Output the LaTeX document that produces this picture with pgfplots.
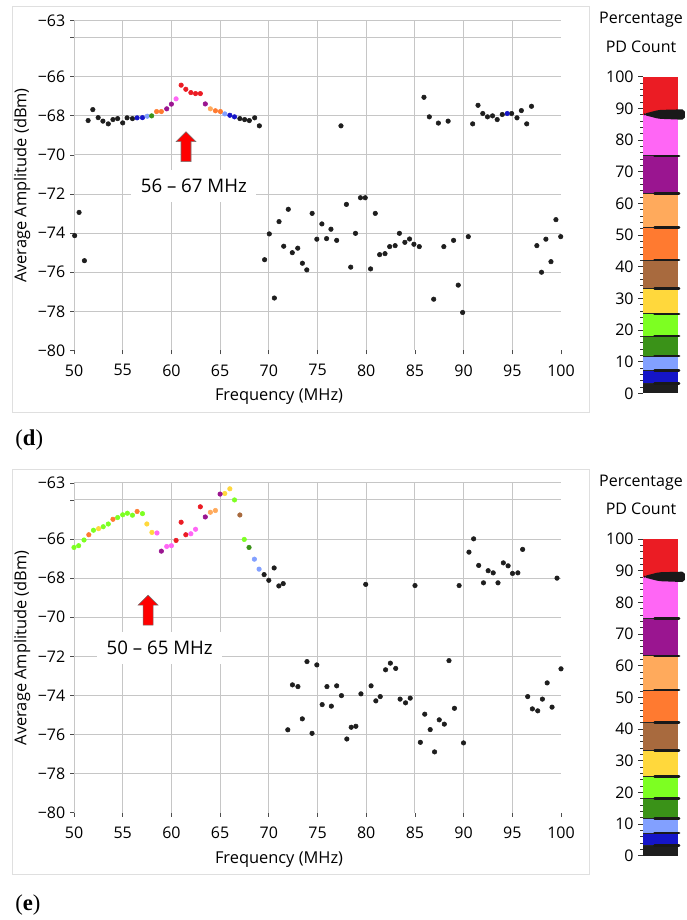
\documentclass[border=0pt]{standalone}
\usepackage{fontspec}
\setmainfont{Open Sans}
\newfontfamily\panelfont{Liberation Serif}
\usepackage{pgfplots}
\pgfplotsset{compat=1.18}

\definecolor{cRed}{HTML}{EB1C24}
\definecolor{cPink}{HTML}{FF66F5}
\definecolor{cPurple}{HTML}{9A1590}
\definecolor{cLOrange}{HTML}{FFAA5C}
\definecolor{cOrange}{HTML}{FF7A30}
\definecolor{cBrown}{HTML}{A86A3E}
\definecolor{cYellow}{HTML}{FFD83C}
\definecolor{cGreen}{HTML}{7DFF22}
\definecolor{cDGreen}{HTML}{3A9218}
\definecolor{cLBlue}{HTML}{82A0FF}
\definecolor{cBlue}{HTML}{1515C8}
\definecolor{cBlack}{HTML}{1E1E1E}

\tikzset{
  thr/.style={line width=0.7pt, black!85},
  thrb/.style={line width=2pt, line cap=round, black!90},
}

\pgfplotsset{
  mainax/.style={
    scale only axis, width=365.25pt, height=247.3pt,
    xmin=50, xmax=100, ymin=-80, ymax=-63.13,
    axis line style={draw=none},
    xtick={50,55,60,65,70,75,80,85,90,95}, extra x ticks={100},
    ytick={-78,-76,-74,-72,-70,-68,-66,-64,-63.13},
    yticklabels={−78,−76,−74,−72,−70,−68,−66,{},−63},
    extra y ticks={-80}, extra y tick labels={−80},
    extra tick style={grid=none},
    grid=major, grid style={line width=0.75pt, color=gray!45},
    tick align=outside, major tick length=3pt,
    tick style={line width=0.6pt, color=black!70},
    xtick pos=left, ytick pos=left,
    /pgf/number format/assume math mode=true,
    ticklabel style={font=\fontsize{12}{14}\selectfont},
    xticklabel style={yshift=-4pt},
    xlabel={Frequency (MHz)},
    ylabel={Average Amplitude (dBm)},
    label style={font=\fontsize{12.3}{14}\selectfont},
    xlabel style={at={(axis description cs:0.421,-0.1413)}, anchor=center},
    ylabel style={at={(axis description cs:-0.1068,0.5)}, anchor=center},
  },
  dots/.style={only marks, mark=*, mark size=1.7pt, color=#1, mark options={draw=#1, fill=#1}},
  cbar/.style={
    scale only axis, width=26.25pt, height=237.6pt,
    xmin=0, xmax=1, ymin=0, ymax=100,
    ybar stacked, bar width=26.25pt,
    xtick=\empty, axis line style={draw=none},
    ytick={0,10,20,30,40,50,60,70,80,90,100}, minor y tick num=4,
    ytick pos=left, tick align=outside,
    major tick length=3.5pt, minor tick length=2pt,
    tick style={line width=0.5pt, color=black!80},
    /pgf/number format/assume math mode=true,
    yticklabel style={font=\fontsize{12}{14}\selectfont},
    clip=false,
  },
  cbarover/.style={
    scale only axis, width=26.25pt, height=237.6pt,
    xmin=0, xmax=1, ymin=0, ymax=100,
    hide axis, clip=false,
  },
  cbarfill/.style={fill=#1, draw=none},
}

\newcommand{\thrline}[1]{%
  \draw[thr] (axis cs:0,#1) -- (axis cs:1.03,#1);
  \draw[thrb] (axis cs:0.33,#1) -- (axis cs:1.03,#1);
}

\newcommand{\cbarplots}{%
  \addplot[cbarfill=cBlack] coordinates {(0.5,3.2)};
  \addplot[cbarfill=cBlue] coordinates {(0.5,4.0)};
  \addplot[cbarfill=cLBlue] coordinates {(0.5,4.6)};
  \addplot[cbarfill=cDGreen] coordinates {(0.5,6.3)};
  \addplot[cbarfill=cGreen] coordinates {(0.5,7.0)};
  \addplot[cbarfill=cYellow] coordinates {(0.5,8.1)};
  \addplot[cbarfill=cBrown] coordinates {(0.5,8.9)};
  \addplot[cbarfill=cOrange] coordinates {(0.5,10.2)};
  \addplot[cbarfill=cLOrange] coordinates {(0.5,10.8)};
  \addplot[cbarfill=cPurple] coordinates {(0.5,11.9)};
  \addplot[cbarfill=cPink] coordinates {(0.5,12.9)};
  \addplot[cbarfill=cRed] coordinates {(0.5,12.1)};
}
\newcommand{\cbarmarks}{%
  \thrline{3.2}\thrline{7.2}\thrline{11.8}\thrline{18.1}\thrline{25.1}
  \thrline{33.2}\thrline{42.1}\thrline{52.3}\thrline{63.1}\thrline{75.0}
  \fill[black!90, rounded corners=1.5pt] (axis cs:0.03,88.3) -- (axis cs:0.45,89.5) -- (axis cs:1.18,89.7) -- (axis cs:1.21,88) -- (axis cs:1.18,86.4) -- (axis cs:0.45,86.7) -- (axis cs:0.03,87.9) -- cycle;
}

\begin{document}
\begin{tikzpicture}
\useasboundingbox (0,0) rectangle (514.5pt,-690pt);
% frames
\draw[gray!25, line width=0.75pt] (9pt,-5.25pt) rectangle (441.75pt,-309pt);
\draw[gray!25, line width=0.75pt] (9pt,-351.95pt) rectangle (441.75pt,-655.7pt);

% ---------- panel (d) ----------
\begin{axis}[mainax, at={(55.5pt,-262.8pt)}, anchor=south west]
\addplot[dots=cBlack] coordinates {
(50.07,-74.13)(50.52,-72.94)(51.07,-75.41)(51.45,-68.24)(51.93,-67.68)(52.48,-68.09)(52.97,-68.27)(53.52,-68.41)(54.0,-68.19)(54.48,-68.14)(55.0,-68.36)(55.45,-68.10)(56.0,-68.14)(67.03,-68.14)(67.52,-68.19)(68.0,-68.24)(68.55,-68.10)(69.03,-68.51)(69.57,-75.36)(70.05,-74.04)(70.57,-77.32)(71.05,-73.41)(71.53,-74.67)(72.0,-72.78)(72.41,-75.0)(72.97,-74.77)(73.45,-75.54)(73.90,-75.88)(74.45,-72.99)(74.93,-74.31)(75.45,-73.53)(75.93,-74.28)(76.38,-73.80)(76.97,-74.37)(77.41,-68.51)(77.97,-72.53)(78.41,-75.74)(78.90,-74.01)(79.41,-72.19)(79.90,-72.19)(80.45,-75.83)(80.93,-72.99)(81.38,-75.10)(81.93,-75.05)(82.41,-74.69)(82.97,-74.64)(83.41,-74.01)(83.97,-74.47)(84.45,-74.30)(84.90,-74.57)(85.45,-74.69)(85.93,-67.05)(86.48,-68.05)(86.93,-77.38)(87.41,-68.37)(87.97,-74.69)(88.41,-68.27)(88.97,-74.37)(89.45,-76.66)(89.90,-78.06)(90.48,-74.18)(90.93,-68.41)(91.48,-67.46)(91.97,-67.88)(92.45,-68.05)(92.97,-68.0)(93.45,-68.19)(93.97,-67.93)(94.93,-67.88)(95.48,-68.10)(95.93,-67.73)(96.48,-68.41)(96.97,-67.51)(97.52,-74.64)(98.0,-76.0)(98.45,-74.31)(98.97,-75.46)(99.48,-73.31)(99.97,-74.18)
};
\addplot[dots=cBlue] coordinates {(56.48,-68.10)(57.03,-68.09)(66.0,-67.97)(66.48,-68.05)(94.48,-67.88)};
\addplot[dots=cLBlue] coordinates {(57.52,-68.02)(65.48,-67.90)};
\addplot[dots=cDGreen] coordinates {(57.97,-68.0)};
\addplot[dots=cOrange] coordinates {(58.48,-67.78)(58.97,-67.78)(64.52,-67.74)(65.03,-67.78)};
\addplot[dots=cLOrange] coordinates {(64.0,-67.64)};
\addplot[dots=cPurple] coordinates {(59.52,-67.64)(60.0,-67.40)(63.48,-67.39)};
\addplot[dots=cPink] coordinates {(60.48,-67.13)};
\addplot[dots=cRed] coordinates {(61.0,-66.43)(61.48,-66.64)(62.0,-66.81)(62.48,-66.86)(62.97,-66.86)};
\node[fill=white, inner sep=0pt, minimum width=93.75pt, minimum height=24pt, font=\fontsize{14}{16}\selectfont] at (axis cs:62.3,-71.6) {56 – 67 MHz};
\draw[fill=red, draw=black!55, line width=0.4pt] (axis cs:61.5,-68.81) -- ++(-7.5pt,-7.5pt) -- ++(3.75pt,0pt) -- ++(0pt,-15pt) -- ++(7.5pt,0pt) -- ++(0pt,15pt) -- ++(3.75pt,0pt) -- cycle;
\end{axis}

\begin{axis}[cbar, at={(482.25pt,-295.1pt)}, anchor=south west]
\cbarplots
\end{axis}
\begin{axis}[cbarover, at={(482.25pt,-295.1pt)}, anchor=south west]
\cbarmarks
\end{axis}
\node[font=\fontsize{12}{14}\selectfont] at (480.75pt,-15pt) {Percentage};
\node[font=\fontsize{12}{14}\selectfont] at (480.75pt,-35.25pt) {PD Count};
\node[anchor=west, font=\panelfont\fontsize{17}{19}\selectfont] at (8pt,-330pt) {(\textbf{d})};

% ---------- panel (e) ----------
\begin{axis}[mainax, at={(55.5pt,-609.5pt)}, anchor=south west]
\addplot[dots=cBlack] coordinates {
(69.52,-67.82)(70.0,-68.11)(70.55,-67.48)(71.03,-68.40)(71.48,-68.28)(71.95,-75.76)(72.43,-73.46)(72.99,-73.55)(73.44,-75.20)(73.92,-72.27)(74.44,-75.94)(74.93,-72.44)(75.48,-74.47)(75.97,-73.55)(76.42,-74.55)(76.97,-73.51)(77.46,-74.01)(78.01,-76.23)(78.46,-75.63)(78.94,-75.58)(79.46,-73.92)(79.95,-68.32)(80.50,-73.51)(80.99,-74.28)(81.44,-74.06)(81.99,-72.69)(82.48,-72.35)(83.03,-72.62)(83.48,-74.19)(84.04,-74.38)(84.52,-74.14)(85.01,-68.38)(85.56,-76.40)(86.01,-74.96)(86.57,-75.75)(87.02,-76.89)(87.50,-75.25)(88.02,-75.47)(88.50,-72.22)(89.06,-74.66)(89.54,-68.38)(89.99,-76.43)(90.55,-66.67)(91.03,-65.99)(91.55,-67.35)(92.04,-68.24)(92.52,-67.62)(93.04,-67.73)(93.53,-68.24)(94.08,-67.22)(94.57,-67.37)(95.02,-67.76)(95.57,-67.73)(96.06,-66.53)(96.58,-74.06)(97.06,-74.69)(97.61,-74.79)(98.09,-74.19)(98.58,-73.36)(99.08,-74.60)(99.59,-68.0)(100.0,-72.64)
};
\addplot[dots=cGreen] coordinates {(50.0,-66.43)(50.48,-66.34)(51.03,-66.05)(52.0,-65.55)(53.0,-65.37)(53.52,-65.23)(54.48,-64.90)(55.0,-64.76)(55.48,-64.68)(56.0,-64.78)(57.03,-64.70)(66.48,-64.0)(67.48,-66.02)};
\addplot[dots=cOrange] coordinates {(51.52,-65.78)(54.0,-64.99)(56.48,-64.59)};
\addplot[dots=cYellow] coordinates {(52.52,-65.47)(57.48,-65.23)(58.0,-65.66)(65.48,-63.67)(66.0,-63.43)};
\addplot[dots=cPink] coordinates {(58.52,-65.69)(59.52,-66.38)(60.0,-66.34)(62.0,-65.73)(62.48,-65.50)};
\addplot[dots=cPurple] coordinates {(58.97,-66.62)(63.48,-64.87)(65.0,-63.70)};
\addplot[dots=cRed] coordinates {(60.48,-66.07)(61.0,-65.14)(61.48,-65.78)(62.97,-64.35)};
\addplot[dots=cLOrange] coordinates {(64.0,-64.63)(64.52,-64.54)};
\addplot[dots=cBrown] coordinates {(67.03,-64.77)};
\addplot[dots=cDGreen] coordinates {(67.97,-66.43)};
\addplot[dots=cLBlue] coordinates {(68.52,-67.03)(69.0,-67.54)};
\node[fill=white, inner sep=0pt, minimum width=93.75pt, minimum height=24pt, font=\fontsize{14}{16}\selectfont] at (axis cs:58.8,-71.57) {50 – 65 MHz};
\draw[fill=red, draw=black!55, line width=0.4pt] (axis cs:57.6,-68.87) -- ++(-7.5pt,-7.5pt) -- ++(3.75pt,0pt) -- ++(0pt,-15pt) -- ++(7.5pt,0pt) -- ++(0pt,15pt) -- ++(3.75pt,0pt) -- cycle;
\end{axis}

\begin{axis}[cbar, at={(482.25pt,-641.85pt)}, anchor=south west]
\cbarplots
\end{axis}
\begin{axis}[cbarover, at={(482.25pt,-641.85pt)}, anchor=south west]
\cbarmarks
\end{axis}
\node[font=\fontsize{12}{14}\selectfont] at (480.75pt,-361.7pt) {Percentage};
\node[font=\fontsize{12}{14}\selectfont] at (480.75pt,-381.95pt) {PD Count};
\node[anchor=west, font=\panelfont\fontsize{17}{19}\selectfont] at (8pt,-678.75pt) {(\textbf{e})};
\end{tikzpicture}
\end{document}
